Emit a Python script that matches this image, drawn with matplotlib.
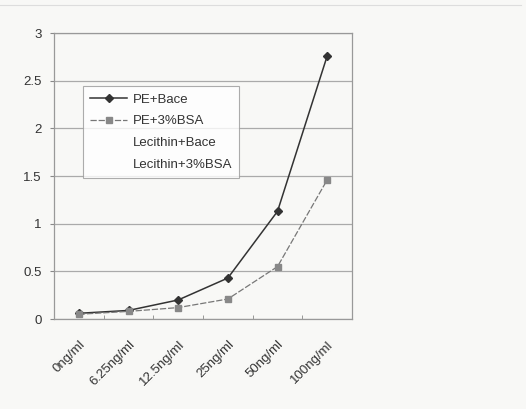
import matplotlib
matplotlib.use('Agg')
import matplotlib.pyplot as plt
from matplotlib.lines import Line2D
import numpy as np

plt.rcParams['font.family'] = ['Liberation Sans', 'DejaVu Sans']

# 数据
categories = ['0ng/ml', '6.25ng/ml', '12.5ng/ml', '25ng/ml', '50ng/ml', '100ng/ml']
pe_bace = [0.06, 0.09, 0.20, 0.43, 1.13, 2.76]
pe_bsa = [0.05, 0.08, 0.12, 0.21, 0.55, 1.46]
legend_labels = ['PE+Bace', 'PE+3%BSA', 'Lecithin+Bace', 'Lecithin+3%BSA']
y_ticks = [0, 0.5, 1, 1.5, 2, 2.5, 3]

bg = '#f8f8f6'
fig = plt.figure(figsize=(5.26, 4.09), dpi=100, facecolor=bg)
ax = fig.add_axes([0.1027, 0.22, 0.5665, 0.699], facecolor=bg)

x = np.arange(len(categories))
ax.plot(x, pe_bace, '-', color='#333333', linewidth=1.1, marker='D',
        markersize=4, markerfacecolor='#333333', markeredgecolor='#333333')
ax.plot(x, pe_bsa, '--', color='#777777', linewidth=0.9, dashes=(5, 1.5),
        marker='s', markersize=4.5, markerfacecolor='#888888',
        markeredgecolor='#888888')

ax.set_xlim(-0.5, len(categories) - 0.5)
ax.set_ylim(0, 3)
ax.set_yticks(y_ticks)
ax.set_yticklabels([f'{v:g}' for v in y_ticks], fontsize=9.5, color='#333333')
ax.yaxis.grid(True, color='#aaaaaa', linewidth=0.9)
ax.set_axisbelow(True)

ax.set_xticks(x)
ax.set_xticklabels(categories, rotation=45, ha='right', rotation_mode='anchor',
                   fontsize=9.5, color='#333333')
ax.tick_params(axis='x', length=0, pad=14)
ax.set_xticks(np.arange(0.5, len(categories) - 0.5), minor=True)
ax.tick_params(axis='x', which='minor', length=3, direction='in', color='#888888')
ax.tick_params(axis='y', length=3, direction='out', color='#888888', pad=6)

for s in ax.spines.values():
    s.set_color('#999999')
    s.set_linewidth(0.9)

handles = [
    Line2D([], [], color='#333333', linewidth=1.1, marker='D', markersize=4),
    Line2D([], [], color='#777777', linewidth=0.9, linestyle='--', dashes=(5, 1.5),
           marker='s', markersize=4.5, markerfacecolor='#888888', markeredgecolor='#888888'),
    Line2D([], [], color='none'),
    Line2D([], [], color='none'),
]
leg = ax.legend(handles, legend_labels, loc='upper left', bbox_to_anchor=(0.097, 0.815),
                borderaxespad=0, fontsize=9.5, frameon=True, fancybox=False,
                handlelength=2.8, labelspacing=0.72, borderpad=0.55,
                handletextpad=0.4, labelcolor='#333333')
leg.get_frame().set_edgecolor('#999999')
leg.get_frame().set_facecolor('white')
leg.get_frame().set_linewidth(0.8)

# 外框淡线
fig.add_artist(Line2D([0.0, 0.99], [0.988, 0.988], transform=fig.transFigure,
                      color='#dddddd', linewidth=0.8))

fig.savefig('out.png', dpi=100, facecolor=bg)
